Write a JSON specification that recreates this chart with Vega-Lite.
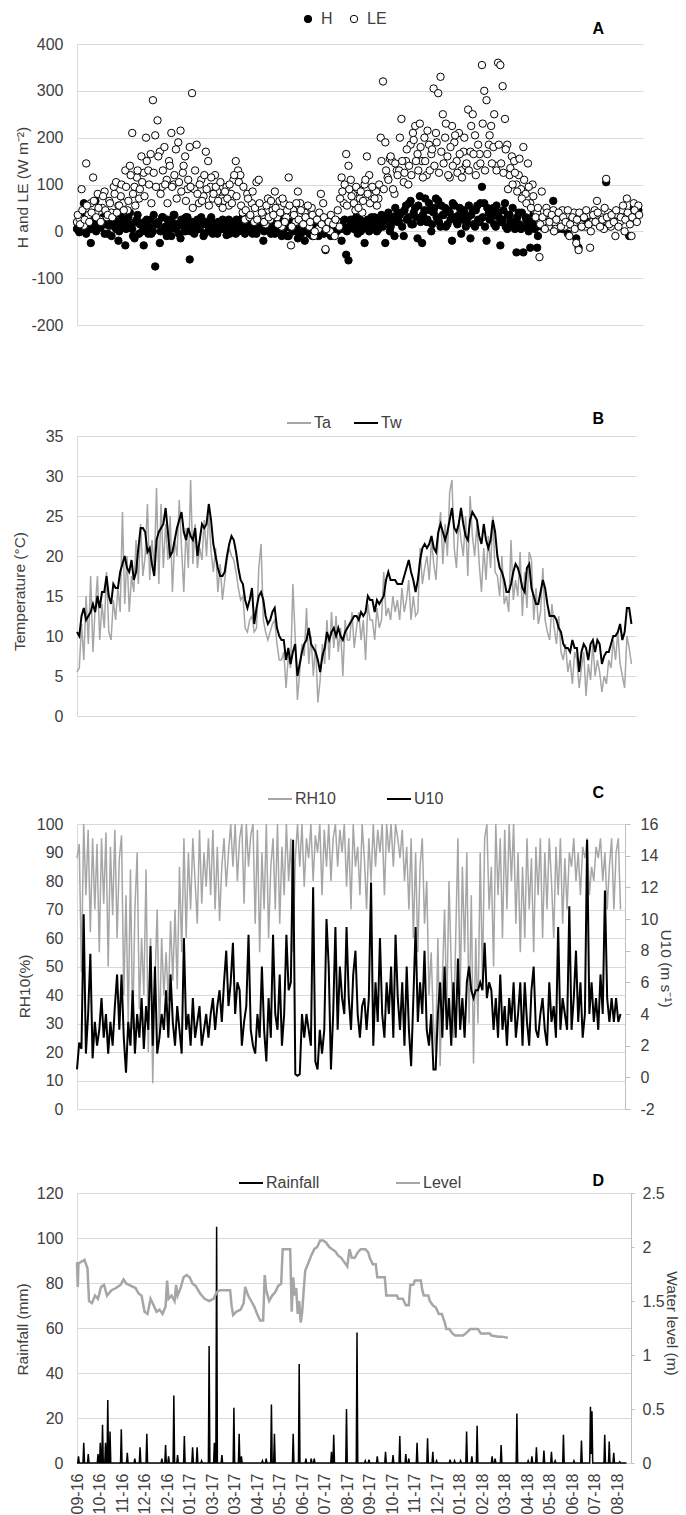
{
"$schema": "https://vega.github.io/schema/vega-lite/v6.json",
"padding": {"left": 12, "top": 11, "right": 3, "bottom": 0},
"background": "white",
"config": {
 "font": "Liberation Sans",
 "view": {"stroke": null},
 "axis": {"labelFont": "Liberation Sans", "labelFontSize": 16, "labelColor": "#404040", "titleFont": "Liberation Sans", "titleFontSize": 15.5, "titleFontWeight": "normal", "titleColor": "#404040", "gridColor": "#d9d9d9", "gridWidth": 1, "domainColor": "#d9d9d9", "tickColor": "#bfbfbf", "labelOverlap": false, "labelFlush": false, "labelBound": false},
 "axisLeft": {"grid": true, "ticks": false, "tickSize": 0, "labelPadding": 14, "titleBaseline": "middle", "domain": true},
 "axisRight": {"grid": false, "ticks": true, "tickSize": 5, "labelPadding": 10, "domainColor": "#bfbfbf", "titleBaseline": "middle", "titleAngle": 90},
 "axisBottom": {"grid": false, "ticks": false, "tickSize": 0, "labelPadding": 10, "domainColor": "#d9d9d9"},
 "legend": {"orient": "none", "direction": "horizontal", "labelFont": "Liberation Sans", "labelFontSize": 16, "labelColor": "#404040", "padding": 0},
 "title": {"font": "Liberation Sans", "fontSize": 16, "fontWeight": "bold", "color": "#000000", "anchor": "end", "frame": "group"}
},
"datasets": {
"daily": [
{"t":0,"H":5,"LE":20,"Ta":5.5,"Tw":10.5,"RH":88,"U":0.5},
{"t":3,"H":-2,"LE":28,"Ta":6,"Tw":10,"RH":93,"U":2.2},
{"t":6,"H":25,"LE":90,"Ta":11.5,"Tw":12.5,"RH":48,"U":1.8},
{"t":9,"H":60,"LE":12,"Ta":7,"Tw":13.5,"RH":100,"U":10.3},
{"t":12,"H":-5,"LE":145,"Ta":15,"Tw":12,"RH":75,"U":1.5},
{"t":15,"H":10,"LE":35,"Ta":9,"Tw":12.5,"RH":98,"U":4},
{"t":18,"H":-25,"LE":60,"Ta":17.5,"Tw":13,"RH":62,"U":7.8},
{"t":21,"H":30,"LE":115,"Ta":8,"Tw":14,"RH":95,"U":1.2},
{"t":24,"H":65,"LE":40,"Ta":13.5,"Tw":13,"RH":70,"U":3.5},
{"t":27,"H":15,"LE":80,"Ta":17.5,"Tw":15,"RH":93,"U":2},
{"t":30,"H":8,"LE":25,"Ta":9.5,"Tw":13.5,"RH":55,"U":3},
{"t":33,"H":20,"LE":50,"Ta":14,"Tw":15.5,"RH":95,"U":5},
{"t":36,"H":-5,"LE":85,"Ta":11,"Tw":15.5,"RH":72,"U":2.5},
{"t":39,"H":30,"LE":30,"Ta":18,"Tw":17.5,"RH":97,"U":4},
{"t":42,"H":12,"LE":65,"Ta":10.5,"Tw":15,"RH":50,"U":1.5},
{"t":45,"H":-10,"LE":40,"Ta":9.5,"Tw":14,"RH":92,"U":3.5},
{"t":48,"H":25,"LE":95,"Ta":14.5,"Tw":16.5,"RH":68,"U":2},
{"t":51,"H":5,"LE":105,"Ta":12,"Tw":16,"RH":98,"U":4.5},
{"t":54,"H":-20,"LE":55,"Ta":16,"Tw":16,"RH":60,"U":6.5},
{"t":57,"H":35,"LE":75,"Ta":13,"Tw":18,"RH":88,"U":3},
{"t":60,"H":10,"LE":60,"Ta":25.5,"Tw":19,"RH":96,"U":6.5},
{"t":63,"H":-30,"LE":130,"Ta":14,"Tw":20,"RH":40,"U":2.5},
{"t":66,"H":20,"LE":45,"Ta":20,"Tw":18.5,"RH":75,"U":0.3},
{"t":69,"H":40,"LE":140,"Ta":13,"Tw":18,"RH":30,"U":3.5},
{"t":72,"H":5,"LE":210,"Ta":17.5,"Tw":19.5,"RH":84,"U":2},
{"t":75,"H":-15,"LE":95,"Ta":15.5,"Tw":17,"RH":28,"U":5.5},
{"t":78,"H":25,"LE":115,"Ta":22,"Tw":18,"RH":70,"U":1.5},
{"t":81,"H":-5,"LE":70,"Ta":16.5,"Tw":21,"RH":90,"U":4},
{"t":84,"H":15,"LE":160,"Ta":24,"Tw":23.5,"RH":35,"U":2.5},
{"t":87,"H":-30,"LE":125,"Ta":17.5,"Tw":23.5,"RH":60,"U":5},
{"t":90,"H":10,"LE":200,"Ta":20,"Tw":23,"RH":40,"U":1.8},
{"t":93,"H":-5,"LE":130,"Ta":26.5,"Tw":20.5,"RH":84,"U":4.5},
{"t":96,"H":25,"LE":165,"Ta":17,"Tw":21,"RH":20,"U":3},
{"t":99,"H":0,"LE":280,"Ta":22,"Tw":19,"RH":60,"U":8.3},
{"t":102,"H":-75,"LE":205,"Ta":18.5,"Tw":17.5,"RH":9,"U":2},
{"t":105,"H":15,"LE":237,"Ta":28.5,"Tw":22,"RH":45,"U":7},
{"t":108,"H":-25,"LE":170,"Ta":16.5,"Tw":23,"RH":70,"U":1.5},
{"t":111,"H":30,"LE":95,"Ta":26.5,"Tw":23.5,"RH":25,"U":2.5},
{"t":114,"H":5,"LE":180,"Ta":18.5,"Tw":24,"RH":60,"U":4},
{"t":117,"H":-10,"LE":110,"Ta":24,"Tw":26,"RH":40,"U":3},
{"t":120,"H":20,"LE":150,"Ta":19.5,"Tw":23,"RH":55,"U":5.5},
{"t":123,"H":-10,"LE":210,"Ta":25,"Tw":20,"RH":38,"U":2.5},
{"t":126,"H":35,"LE":100,"Ta":15.5,"Tw":20.5,"RH":66,"U":6.5},
{"t":129,"H":5,"LE":175,"Ta":22,"Tw":22,"RH":45,"U":3.5},
{"t":132,"H":15,"LE":190,"Ta":20,"Tw":23.5,"RH":70,"U":2},
{"t":135,"H":-15,"LE":215,"Ta":27,"Tw":24.5,"RH":42,"U":4.5},
{"t":138,"H":25,"LE":125,"Ta":21,"Tw":25.5,"RH":85,"U":3},
{"t":141,"H":0,"LE":160,"Ta":15.5,"Tw":23,"RH":55,"U":1.5},
{"t":144,"H":30,"LE":90,"Ta":23.5,"Tw":22,"RH":95,"U":8.8},
{"t":147,"H":-60,"LE":180,"Ta":18.5,"Tw":23.5,"RH":60,"U":3},
{"t":150,"H":10,"LE":295,"Ta":29.5,"Tw":22.5,"RH":90,"U":4},
{"t":153,"H":-5,"LE":90,"Ta":19,"Tw":22,"RH":70,"U":2},
{"t":156,"H":20,"LE":185,"Ta":24,"Tw":23.5,"RH":95,"U":5},
{"t":159,"H":5,"LE":60,"Ta":18.5,"Tw":20,"RH":80,"U":2.5},
{"t":162,"H":30,"LE":110,"Ta":21,"Tw":22,"RH":65,"U":3.5},
{"t":165,"H":-10,"LE":75,"Ta":19.5,"Tw":24,"RH":98,"U":4.5},
{"t":168,"H":15,"LE":170,"Ta":24.5,"Tw":23.5,"RH":72,"U":2},
{"t":171,"H":0,"LE":150,"Ta":20,"Tw":24,"RH":90,"U":3},
{"t":174,"H":25,"LE":95,"Ta":25.5,"Tw":26.5,"RH":78,"U":4},
{"t":177,"H":-5,"LE":70,"Ta":20.5,"Tw":24.5,"RH":95,"U":2.5},
{"t":180,"H":10,"LE":120,"Ta":18,"Tw":21.5,"RH":75,"U":4},
{"t":183,"H":-5,"LE":85,"Ta":21,"Tw":20,"RH":98,"U":5},
{"t":186,"H":20,"LE":60,"Ta":15.5,"Tw":18.5,"RH":70,"U":3},
{"t":189,"H":5,"LE":70,"Ta":19,"Tw":17.5,"RH":92,"U":4.5},
{"t":192,"H":15,"LE":65,"Ta":14.5,"Tw":17.5,"RH":66,"U":5.5},
{"t":195,"H":-8,"LE":95,"Ta":17,"Tw":18,"RH":85,"U":3.5},
{"t":198,"H":25,"LE":55,"Ta":19.5,"Tw":20,"RH":95,"U":6},
{"t":201,"H":5,"LE":80,"Ta":21,"Tw":21.5,"RH":78,"U":8},
{"t":204,"H":12,"LE":110,"Ta":20,"Tw":22.5,"RH":90,"U":4.5},
{"t":207,"H":-5,"LE":150,"Ta":19.5,"Tw":22,"RH":100,"U":6},
{"t":210,"H":20,"LE":130,"Ta":18,"Tw":20.5,"RH":85,"U":8.5},
{"t":213,"H":5,"LE":120,"Ta":16,"Tw":18.5,"RH":100,"U":4},
{"t":216,"H":30,"LE":40,"Ta":14.5,"Tw":17,"RH":80,"U":6},
{"t":219,"H":-5,"LE":25,"Ta":15,"Tw":16.5,"RH":95,"U":5.5},
{"t":222,"H":10,"LE":80,"Ta":11,"Tw":14.5,"RH":100,"U":2},
{"t":225,"H":25,"LE":30,"Ta":10.5,"Tw":13.5,"RH":72,"U":3.5},
{"t":228,"H":0,"LE":60,"Ta":12,"Tw":14.5,"RH":100,"U":4.5},
{"t":231,"H":15,"LE":20,"Ta":12.5,"Tw":16,"RH":85,"U":9},
{"t":234,"H":-5,"LE":105,"Ta":10.5,"Tw":11.5,"RH":96,"U":3},
{"t":237,"H":10,"LE":110,"Ta":11,"Tw":13.5,"RH":100,"U":2},
{"t":240,"H":10,"LE":50,"Ta":18.5,"Tw":15,"RH":65,"U":1.5},
{"t":243,"H":-20,"LE":35,"Ta":21.5,"Tw":15.5,"RH":98,"U":4},
{"t":246,"H":5,"LE":15,"Ta":12,"Tw":14.5,"RH":55,"U":2.5},
{"t":249,"H":20,"LE":70,"Ta":10.5,"Tw":12.5,"RH":90,"U":7},
{"t":252,"H":0,"LE":25,"Ta":9.5,"Tw":11.5,"RH":70,"U":3},
{"t":255,"H":15,"LE":45,"Ta":10.5,"Tw":12,"RH":100,"U":1},
{"t":258,"H":-5,"LE":85,"Ta":11.5,"Tw":13,"RH":60,"U":5},
{"t":261,"H":10,"LE":30,"Ta":12,"Tw":13.5,"RH":85,"U":2.5},
{"t":264,"H":25,"LE":65,"Ta":9,"Tw":11,"RH":95,"U":9},
{"t":267,"H":-10,"LE":10,"Ta":7,"Tw":10,"RH":70,"U":4},
{"t":270,"H":5,"LE":60,"Ta":7,"Tw":9.5,"RH":100,"U":3},
{"t":273,"H":20,"LE":30,"Ta":8,"Tw":9.5,"RH":65,"U":6.5},
{"t":276,"H":-10,"LE":115,"Ta":3.5,"Tw":7,"RH":92,"U":2},
{"t":279,"H":15,"LE":-30,"Ta":7.5,"Tw":8.5,"RH":75,"U":4},
{"t":282,"H":0,"LE":45,"Ta":6,"Tw":6.5,"RH":100,"U":9},
{"t":285,"H":25,"LE":20,"Ta":16.5,"Tw":8,"RH":80,"U":5.5},
{"t":288,"H":-15,"LE":85,"Ta":10,"Tw":9,"RH":95,"U":6},
{"t":291,"H":10,"LE":60,"Ta":2,"Tw":5,"RH":55,"U":15},
{"t":294,"H":5,"LE":15,"Ta":5.5,"Tw":6.5,"RH":88,"U":0.2},
{"t":297,"H":-20,"LE":40,"Ta":9,"Tw":8,"RH":100,"U":0.1},
{"t":300,"H":5,"LE":30,"Ta":7.5,"Tw":9,"RH":85,"U":0.2},
{"t":303,"H":-5,"LE":10,"Ta":13.5,"Tw":9.5,"RH":100,"U":4},
{"t":306,"H":10,"LE":50,"Ta":6.5,"Tw":11,"RH":78,"U":2.5},
{"t":309,"H":0,"LE":-10,"Ta":10,"Tw":9,"RH":95,"U":4},
{"t":312,"H":15,"LE":25,"Ta":5,"Tw":8.5,"RH":88,"U":3},
{"t":315,"H":-10,"LE":5,"Ta":9,"Tw":8,"RH":100,"U":2},
{"t":318,"H":5,"LE":80,"Ta":1.7,"Tw":7,"RH":80,"U":12},
{"t":321,"H":10,"LE":60,"Ta":4.5,"Tw":5.5,"RH":96,"U":1},
{"t":324,"H":-40,"LE":-38,"Ta":9,"Tw":7.5,"RH":90,"U":0.5},
{"t":327,"H":0,"LE":20,"Ta":6.5,"Tw":8.5,"RH":100,"U":3},
{"t":330,"H":10,"LE":0,"Ta":12,"Tw":10.5,"RH":75,"U":1.5},
{"t":333,"H":-5,"LE":25,"Ta":7,"Tw":9.5,"RH":98,"U":3},
{"t":336,"H":15,"LE":-10,"Ta":13,"Tw":10.5,"RH":85,"U":10},
{"t":339,"H":0,"LE":20,"Ta":8.5,"Tw":11,"RH":100,"U":7},
{"t":342,"H":20,"LE":10,"Ta":12.5,"Tw":10,"RH":80,"U":0.5},
{"t":345,"H":-20,"LE":115,"Ta":8,"Tw":11,"RH":95,"U":4},
{"t":348,"H":5,"LE":60,"Ta":11,"Tw":10,"RH":100,"U":9.5},
{"t":351,"H":-50,"LE":165,"Ta":5,"Tw":9.5,"RH":85,"U":3},
{"t":354,"H":-62,"LE":140,"Ta":12,"Tw":10.5,"RH":98,"U":7},
{"t":357,"H":25,"LE":110,"Ta":9.5,"Tw":11,"RH":90,"U":5},
{"t":360,"H":10,"LE":80,"Ta":9.5,"Tw":11.5,"RH":100,"U":4},
{"t":363,"H":20,"LE":45,"Ta":13,"Tw":12,"RH":78,"U":9.5},
{"t":366,"H":-5,"LE":90,"Ta":8.5,"Tw":12.5,"RH":95,"U":5},
{"t":369,"H":25,"LE":70,"Ta":11,"Tw":12.5,"RH":70,"U":3},
{"t":372,"H":5,"LE":40,"Ta":13,"Tw":12,"RH":100,"U":6.5},
{"t":375,"H":-25,"LE":100,"Ta":9.5,"Tw":13,"RH":85,"U":8},
{"t":378,"H":15,"LE":160,"Ta":12,"Tw":12.5,"RH":92,"U":4},
{"t":381,"H":0,"LE":120,"Ta":7,"Tw":13,"RH":75,"U":2.5},
{"t":384,"H":30,"LE":75,"Ta":14,"Tw":15,"RH":100,"U":4.5},
{"t":387,"H":10,"LE":90,"Ta":12,"Tw":14.5,"RH":88,"U":5},
{"t":390,"H":15,"LE":85,"Ta":12,"Tw":14.5,"RH":70,"U":3},
{"t":393,"H":5,"LE":70,"Ta":9.5,"Tw":13,"RH":95,"U":5},
{"t":396,"H":25,"LE":200,"Ta":13.5,"Tw":14.5,"RH":80,"U":12.3},
{"t":399,"H":10,"LE":320,"Ta":11,"Tw":14,"RH":100,"U":2},
{"t":402,"H":-25,"LE":190,"Ta":12,"Tw":14.5,"RH":85,"U":6},
{"t":405,"H":30,"LE":115,"Ta":18,"Tw":15,"RH":98,"U":3.5},
{"t":408,"H":0,"LE":155,"Ta":12.5,"Tw":17,"RH":90,"U":8.8},
{"t":411,"H":20,"LE":150,"Ta":13.5,"Tw":18,"RH":100,"U":4},
{"t":414,"H":-10,"LE":80,"Ta":12,"Tw":17,"RH":75,"U":2.5},
{"t":417,"H":35,"LE":130,"Ta":15,"Tw":17,"RH":100,"U":6},
{"t":420,"H":20,"LE":130,"Ta":13,"Tw":17,"RH":90,"U":4},
{"t":423,"H":40,"LE":240,"Ta":14.5,"Tw":16.5,"RH":100,"U":7},
{"t":426,"H":-10,"LE":105,"Ta":12,"Tw":16.5,"RH":85,"U":2.5},
{"t":429,"H":55,"LE":150,"Ta":16,"Tw":16.5,"RH":100,"U":9},
{"t":432,"H":30,"LE":100,"Ta":13,"Tw":17.5,"RH":95,"U":5},
{"t":435,"H":65,"LE":185,"Ta":14.5,"Tw":18.5,"RH":88,"U":3},
{"t":438,"H":15,"LE":210,"Ta":17,"Tw":19.5,"RH":98,"U":6},
{"t":441,"H":50,"LE":225,"Ta":12,"Tw":18,"RH":80,"U":2},
{"t":444,"H":-15,"LE":165,"Ta":15,"Tw":17,"RH":92,"U":7},
{"t":447,"H":75,"LE":230,"Ta":12.5,"Tw":15.5,"RH":70,"U":3},
{"t":450,"H":-25,"LE":150,"Ta":13,"Tw":17,"RH":95,"U":0.7},
{"t":453,"H":45,"LE":200,"Ta":21,"Tw":19.5,"RH":60,"U":5},
{"t":456,"H":20,"LE":120,"Ta":16.5,"Tw":21,"RH":90,"U":9.5},
{"t":459,"H":60,"LE":185,"Ta":18.5,"Tw":21.5,"RH":55,"U":3.5},
{"t":462,"H":0,"LE":165,"Ta":20,"Tw":21,"RH":85,"U":6},
{"t":465,"H":40,"LE":305,"Ta":17,"Tw":21.5,"RH":95,"U":4},
{"t":468,"H":70,"LE":210,"Ta":22,"Tw":22.5,"RH":65,"U":8},
{"t":471,"H":65,"LE":295,"Ta":19,"Tw":21,"RH":80,"U":3},
{"t":474,"H":10,"LE":330,"Ta":17,"Tw":20.5,"RH":40,"U":2},
{"t":477,"H":35,"LE":250,"Ta":22.5,"Tw":23,"RH":55,"U":4},
{"t":480,"H":50,"LE":200,"Ta":25.5,"Tw":24,"RH":30,"U":0.5},
{"t":483,"H":15,"LE":160,"Ta":19,"Tw":23,"RH":20,"U":0.5},
{"t":486,"H":40,"LE":115,"Ta":24,"Tw":22,"RH":60,"U":4},
{"t":489,"H":-20,"LE":225,"Ta":20,"Tw":23,"RH":15,"U":6},
{"t":492,"H":55,"LE":190,"Ta":28,"Tw":24.5,"RH":45,"U":2.5},
{"t":495,"H":20,"LE":150,"Ta":29.5,"Tw":26,"RH":70,"U":7},
{"t":498,"H":35,"LE":210,"Ta":21,"Tw":23.5,"RH":35,"U":3},
{"t":501,"H":-5,"LE":130,"Ta":18.5,"Tw":23,"RH":80,"U":5},
{"t":504,"H":45,"LE":170,"Ta":24.5,"Tw":24,"RH":50,"U":2},
{"t":507,"H":10,"LE":140,"Ta":22,"Tw":26,"RH":25,"U":6},
{"t":510,"H":30,"LE":260,"Ta":20,"Tw":24,"RH":60,"U":2.5},
{"t":513,"H":-15,"LE":170,"Ta":25,"Tw":22.5,"RH":95,"U":7.5},
{"t":516,"H":45,"LE":250,"Ta":17.5,"Tw":22,"RH":40,"U":3},
{"t":519,"H":10,"LE":205,"Ta":27.5,"Tw":24.5,"RH":85,"U":5},
{"t":522,"H":55,"LE":140,"Ta":22.5,"Tw":25.5,"RH":55,"U":2.5},
{"t":525,"H":20,"LE":165,"Ta":20,"Tw":25,"RH":90,"U":6},
{"t":528,"H":95,"LE":355,"Ta":24,"Tw":24.5,"RH":30,"U":7},
{"t":531,"H":60,"LE":300,"Ta":19,"Tw":22.5,"RH":75,"U":5.5},
{"t":534,"H":-20,"LE":280,"Ta":15.5,"Tw":21.5,"RH":16,"U":5},
{"t":537,"H":40,"LE":185,"Ta":21,"Tw":24,"RH":60,"U":5.5},
{"t":540,"H":30,"LE":225,"Ta":17,"Tw":22,"RH":30,"U":5.5},
{"t":543,"H":50,"LE":180,"Ta":22.5,"Tw":21,"RH":90,"U":6},
{"t":546,"H":10,"LE":140,"Ta":18.5,"Tw":22,"RH":45,"U":5.5},
{"t":549,"H":40,"LE":360,"Ta":25,"Tw":24.5,"RH":95,"U":8.5},
{"t":552,"H":-30,"LE":355,"Ta":18,"Tw":23,"RH":100,"U":5},
{"t":555,"H":25,"LE":310,"Ta":17.5,"Tw":20,"RH":70,"U":6},
{"t":558,"H":60,"LE":240,"Ta":15,"Tw":18.5,"RH":85,"U":5.5},
{"t":561,"H":5,"LE":185,"Ta":20,"Tw":18,"RH":50,"U":3},
{"t":564,"H":35,"LE":120,"Ta":14,"Tw":17,"RH":100,"U":5},
{"t":567,"H":15,"LE":160,"Ta":15,"Tw":15.5,"RH":75,"U":2.5},
{"t":570,"H":20,"LE":150,"Ta":13,"Tw":15.5,"RH":95,"U":6.5},
{"t":573,"H":-45,"LE":100,"Ta":22,"Tw":16.5,"RH":60,"U":3},
{"t":576,"H":40,"LE":120,"Ta":14.5,"Tw":18,"RH":98,"U":4.5},
{"t":579,"H":5,"LE":90,"Ta":17,"Tw":19,"RH":70,"U":2},
{"t":582,"H":-45,"LE":180,"Ta":15,"Tw":18.5,"RH":100,"U":5},
{"t":585,"H":30,"LE":80,"Ta":20.5,"Tw":17.5,"RH":80,"U":3.5},
{"t":588,"H":10,"LE":145,"Ta":12.5,"Tw":16,"RH":100,"U":6},
{"t":591,"H":-35,"LE":60,"Ta":18,"Tw":15.5,"RH":65,"U":2.5},
{"t":594,"H":20,"LE":100,"Ta":13.5,"Tw":18.5,"RH":90,"U":4},
{"t":597,"H":5,"LE":45,"Ta":20.5,"Tw":19,"RH":55,"U":6},
{"t":600,"H":-35,"LE":40,"Ta":19.5,"Tw":16,"RH":85,"U":2},
{"t":603,"LE":-55,"Ta":12,"Tw":15,"RH":60,"U":6},
{"t":606,"H":10,"LE":85,"Ta":16,"Tw":14,"RH":95,"U":3.5},
{"t":609,"LE":20,"Ta":11.5,"Tw":14,"RH":70,"U":2},
{"t":612,"LE":50,"Ta":13,"Tw":15.5,"RH":88,"U":5.5},
{"t":615,"H":20,"LE":10,"Ta":18.5,"Tw":17,"RH":55,"U":7},
{"t":618,"LE":30,"Ta":12,"Tw":16,"RH":92,"U":3},
{"t":621,"H":65,"LE":45,"Ta":10.5,"Tw":14,"RH":75,"U":2.5},
{"t":624,"LE":5,"Ta":9.5,"Tw":12.5,"RH":95,"U":4},
{"t":627,"H":5,"LE":35,"Ta":14,"Tw":12.5,"RH":60,"U":5},
{"t":630,"LE":20,"Ta":11,"Tw":12.5,"RH":90,"U":3},
{"t":633,"H":5,"LE":45,"Ta":9,"Tw":12,"RH":70,"U":2},
{"t":636,"LE":10,"Ta":12.5,"Tw":11,"RH":95,"U":6},
{"t":639,"LE":35,"Ta":8,"Tw":10.5,"RH":80,"U":3.5},
{"t":642,"H":15,"LE":-10,"Ta":7,"Tw":9,"RH":60,"U":4.5},
{"t":645,"LE":25,"Ta":9,"Tw":8.5,"RH":92,"U":2.5},
{"t":648,"LE":40,"Ta":5.5,"Tw":8.5,"RH":75,"U":9.5},
{"t":651,"H":-15,"LE":-25,"Ta":7,"Tw":8,"RH":95,"U":3},
{"t":654,"H":-35,"LE":-40,"Ta":4,"Tw":9.5,"RH":65,"U":5},
{"t":657,"LE":15,"Ta":8,"Tw":8.5,"RH":88,"U":4},
{"t":660,"LE":30,"Ta":7,"Tw":8.5,"RH":70,"U":3},
{"t":663,"LE":10,"Ta":3.5,"Tw":5.5,"RH":90,"U":10.8},
{"t":666,"H":20,"LE":35,"Ta":6,"Tw":8,"RH":85,"U":3},
{"t":669,"LE":-35,"Ta":8,"Tw":9,"RH":95,"U":5},
{"t":672,"LE":20,"Ta":2.5,"Tw":8.5,"RH":80,"U":8},
{"t":675,"LE":45,"Ta":6.5,"Tw":7,"RH":90,"U":3.5},
{"t":678,"LE":65,"Ta":4.5,"Tw":9,"RH":75,"U":6},
{"t":681,"LE":15,"Ta":9,"Tw":9.5,"RH":92,"U":2.5},
{"t":684,"H":10,"LE":30,"Ta":5,"Tw":8,"RH":88,"U":4},
{"t":687,"LE":5,"Ta":7,"Tw":9.5,"RH":95,"U":15},
{"t":690,"H":105,"LE":112,"Ta":5.5,"Tw":9,"RH":75,"U":4},
{"t":693,"LE":40,"Ta":3,"Tw":6.5,"RH":85,"U":6},
{"t":696,"LE":10,"Ta":5,"Tw":7.5,"RH":80,"U":3.5},
{"t":699,"LE":25,"Ta":4,"Tw":8,"RH":92,"U":5},
{"t":702,"LE":-10,"Ta":7,"Tw":8,"RH":88,"U":3},
{"t":705,"LE":35,"Ta":6,"Tw":9,"RH":95,"U":6.5},
{"t":708,"LE":20,"Ta":9.5,"Tw":10,"RH":80,"U":4},
{"t":711,"LE":45,"Ta":7,"Tw":10,"RH":90,"U":11.8},
{"t":714,"LE":0,"Ta":10.5,"Tw":10.5,"RH":70,"U":5},
{"t":717,"LE":70,"Ta":6.5,"Tw":11.5,"RH":85,"U":3.5},
{"t":720,"H":-10,"LE":35,"Ta":5,"Tw":9.5,"RH":95,"U":5},
{"t":723,"LE":-10,"Ta":3.5,"Tw":10.5,"RH":70,"U":3.5},
{"t":726,"H":50,"LE":60,"Ta":10,"Tw":13.5,"RH":90,"U":5},
{"t":729,"LE":40,"Ta":8.5,"Tw":13.5,"RH":95,"U":3.5},
{"t":732,"H":45,"LE":55,"Ta":6.5,"Tw":11.5,"RH":70,"U":4}
],
"flux2": [
{"t":1,"H":15,"LE":35},{"t":4,"H":0,"LE":15},{"t":7,"H":20,"LE":45},{"t":10,"H":30,"LE":25},{"t":13,"H":10,"LE":55},{"t":16,"H":25,"LE":20},{"t":19,"H":5,"LE":40},{"t":22,"H":15,"LE":65},{"t":25,"H":0,"LE":30},{"t":28,"H":25,"LE":50},
{"t":31,"H":10,"LE":20},{"t":34,"H":30,"LE":75},{"t":37,"H":15,"LE":45},{"t":40,"H":-5,"LE":35},{"t":43,"H":20,"LE":60},{"t":46,"H":35,"LE":30},{"t":49,"H":10,"LE":80},{"t":52,"H":20,"LE":40},{"t":55,"H":0,"LE":55},{"t":58,"H":15,"LE":100},
{"t":61,"H":25,"LE":45},{"t":64,"H":5,"LE":95},{"t":67,"H":30,"LE":65},{"t":70,"H":10,"LE":120},{"t":73,"H":-10,"LE":80},{"t":76,"H":20,"LE":55},{"t":79,"H":35,"LE":130},{"t":82,"H":15,"LE":90},{"t":85,"H":0,"LE":105},{"t":88,"H":20,"LE":75},
{"t":91,"H":25,"LE":150},{"t":94,"H":10,"LE":100},{"t":97,"H":-5,"LE":60},{"t":100,"H":35,"LE":125},{"t":103,"H":15,"LE":95},{"t":106,"H":20,"LE":160},{"t":109,"H":0,"LE":80},{"t":112,"H":30,"LE":130},{"t":115,"H":10,"LE":100},{"t":118,"H":25,"LE":60},
{"t":121,"H":5,"LE":140},{"t":124,"H":20,"LE":95},{"t":127,"H":35,"LE":120},{"t":130,"H":15,"LE":70},{"t":133,"H":-5,"LE":105},{"t":136,"H":25,"LE":85},{"t":139,"H":10,"LE":140},{"t":142,"H":30,"LE":65},{"t":145,"H":15,"LE":110},{"t":148,"H":0,"LE":95},
{"t":151,"H":20,"LE":50},{"t":154,"H":10,"LE":130},{"t":157,"H":25,"LE":80},{"t":160,"H":5,"LE":100},{"t":163,"H":15,"LE":65},{"t":166,"H":-5,"LE":120},{"t":169,"H":20,"LE":90},{"t":172,"H":10,"LE":55},{"t":175,"H":30,"LE":115},{"t":178,"H":15,"LE":80},
{"t":181,"H":0,"LE":95},{"t":184,"H":20,"LE":65},{"t":187,"H":10,"LE":105},{"t":190,"H":25,"LE":50},{"t":193,"H":5,"LE":85},{"t":196,"H":15,"LE":70},{"t":199,"H":-5,"LE":100},{"t":202,"H":20,"LE":60},{"t":205,"H":10,"LE":120},{"t":208,"H":25,"LE":75},
{"t":211,"H":0,"LE":105},{"t":214,"H":15,"LE":55},{"t":217,"H":10,"LE":95},{"t":220,"H":20,"LE":45},{"t":223,"H":5,"LE":70},{"t":226,"H":15,"LE":35},{"t":229,"H":-5,"LE":85},{"t":232,"H":20,"LE":50},{"t":235,"H":10,"LE":25},{"t":238,"H":5,"LE":60},
{"t":241,"H":15,"LE":40},{"t":244,"H":0,"LE":20},{"t":247,"H":20,"LE":55},{"t":250,"H":10,"LE":30},{"t":253,"H":-5,"LE":65},{"t":256,"H":15,"LE":35},{"t":259,"H":5,"LE":50},{"t":262,"H":20,"LE":15},{"t":265,"H":0,"LE":40},{"t":268,"H":10,"LE":70},
{"t":271,"H":15,"LE":20},{"t":274,"H":-10,"LE":45},{"t":277,"H":20,"LE":55},{"t":280,"H":5,"LE":10},{"t":283,"H":10,"LE":35},{"t":286,"H":0,"LE":60},{"t":289,"H":15,"LE":25},{"t":292,"H":-5,"LE":45},{"t":295,"H":10,"LE":15},{"t":298,"H":20,"LE":30},
{"t":301,"H":0,"LE":55},{"t":304,"H":10,"LE":20},{"t":307,"H":-10,"LE":35},{"t":310,"H":15,"LE":0},{"t":313,"H":5,"LE":25},{"t":316,"H":0,"LE":40},{"t":319,"H":10,"LE":15},{"t":322,"H":-5,"LE":30},{"t":325,"H":15,"LE":5},{"t":328,"H":5,"LE":20},
{"t":331,"H":-10,"LE":35},{"t":334,"H":20,"LE":15},{"t":337,"H":0,"LE":25},{"t":340,"H":10,"LE":45},{"t":343,"H":5,"LE":70},{"t":346,"H":15,"LE":85},{"t":349,"H":25,"LE":100},{"t":352,"H":0,"LE":55},{"t":355,"H":10,"LE":90},{"t":358,"H":20,"LE":75},
{"t":361,"H":5,"LE":60},{"t":364,"H":30,"LE":95},{"t":367,"H":15,"LE":50},{"t":370,"H":0,"LE":85},{"t":373,"H":20,"LE":65},{"t":376,"H":10,"LE":110},{"t":379,"H":25,"LE":80},{"t":382,"H":5,"LE":60},{"t":385,"H":15,"LE":95},{"t":388,"H":30,"LE":70},
{"t":391,"H":0,"LE":55},{"t":394,"H":20,"LE":100},{"t":397,"H":35,"LE":150},{"t":400,"H":15,"LE":90},{"t":403,"H":25,"LE":130},{"t":406,"H":40,"LE":110},{"t":409,"H":10,"LE":160},{"t":412,"H":30,"LE":90},{"t":415,"H":50,"LE":145},{"t":418,"H":20,"LE":120},
{"t":421,"H":35,"LE":200},{"t":424,"H":10,"LE":150},{"t":427,"H":45,"LE":125},{"t":430,"H":25,"LE":175},{"t":433,"H":60,"LE":140},{"t":436,"H":15,"LE":120},{"t":439,"H":40,"LE":195},{"t":442,"H":30,"LE":150},{"t":445,"H":55,"LE":130},{"t":448,"H":20,"LE":180},
{"t":451,"H":35,"LE":115},{"t":454,"H":70,"LE":150},{"t":457,"H":25,"LE":215},{"t":460,"H":45,"LE":130},{"t":463,"H":15,"LE":175},{"t":466,"H":50,"LE":140},{"t":469,"H":30,"LE":190},{"t":472,"H":20,"LE":125},{"t":475,"H":55,"LE":170},{"t":478,"H":35,"LE":145},
{"t":481,"H":10,"LE":230},{"t":484,"H":45,"LE":120},{"t":487,"H":25,"LE":180},{"t":490,"H":60,"LE":140},{"t":493,"H":30,"LE":205},{"t":496,"H":15,"LE":125},{"t":499,"H":50,"LE":165},{"t":502,"H":25,"LE":115},{"t":505,"H":40,"LE":200},{"t":508,"H":20,"LE":145},
{"t":511,"H":55,"LE":130},{"t":514,"H":35,"LE":225},{"t":517,"H":15,"LE":165},{"t":520,"H":45,"LE":120},{"t":523,"H":25,"LE":185},{"t":526,"H":60,"LE":145},{"t":529,"H":30,"LE":230},{"t":532,"H":10,"LE":130},{"t":535,"H":50,"LE":165},{"t":538,"H":25,"LE":205},
{"t":541,"H":40,"LE":145},{"t":544,"H":15,"LE":250},{"t":547,"H":55,"LE":130},{"t":550,"H":30,"LE":185},{"t":553,"H":20,"LE":145},{"t":556,"H":45,"LE":125},{"t":559,"H":10,"LE":175},{"t":562,"H":35,"LE":90},{"t":565,"H":20,"LE":135},{"t":568,"H":50,"LE":100},
{"t":571,"H":5,"LE":125},{"t":574,"H":30,"LE":85},{"t":577,"H":15,"LE":155},{"t":580,"H":40,"LE":70},{"t":583,"H":10,"LE":110},{"t":586,"H":25,"LE":60},{"t":589,"H":0,"LE":95},{"t":592,"H":20,"LE":50},{"t":595,"H":35,"LE":75},{"t":598,"H":10,"LE":30},
{"t":601,"H":-10,"LE":50},{"t":604,"LE":15},{"t":607,"LE":30},{"t":610,"H":15,"LE":5},{"t":613,"LE":40},{"t":616,"LE":20},{"t":619,"LE":35},{"t":622,"H":5,"LE":0},{"t":625,"LE":25},{"t":628,"LE":40},
{"t":631,"LE":10},{"t":634,"LE":30},{"t":637,"LE":20},{"t":640,"H":-5,"LE":45},{"t":643,"LE":15},{"t":646,"LE":30},{"t":649,"LE":5},{"t":652,"LE":25},{"t":655,"LE":40},{"t":658,"H":10,"LE":10},
{"t":661,"LE":30},{"t":664,"LE":45},{"t":667,"LE":15},{"t":670,"LE":0},{"t":673,"LE":35},{"t":676,"LE":20},{"t":679,"LE":40},{"t":682,"LE":10},{"t":685,"LE":25},{"t":688,"LE":50},
{"t":691,"LE":30},{"t":694,"LE":15},{"t":697,"LE":35},{"t":700,"LE":20},{"t":703,"LE":45},{"t":706,"LE":10},{"t":709,"LE":30},{"t":712,"LE":55},{"t":715,"LE":25},{"t":718,"LE":40},
{"t":721,"LE":15},{"t":724,"LE":30},{"t":727,"LE":45},{"t":730,"LE":20},{"t":733,"LE":35}
],
"rain": [
{"t":0,"R":0},{"t":1,"R":0},{"t":2,"R":3},{"t":3,"R":0},{"t":8,"R":0},{"t":9,"R":9},{"t":10,"R":0},{"t":14,"R":0},{"t":15,"R":4},{"t":16,"R":0},
{"t":27,"R":0},{"t":28,"R":4},{"t":29,"R":0},{"t":30,"R":0},{"t":31,"R":9},{"t":32,"R":0},{"t":33,"R":0},{"t":34,"R":17},{"t":35,"R":0},{"t":37,"R":0},
{"t":38,"R":9},{"t":39,"R":0},{"t":40,"R":0},{"t":41,"R":28},{"t":42,"R":0},{"t":43,"R":0},{"t":44,"R":14},{"t":45,"R":0},{"t":58,"R":0},{"t":59,"R":15},
{"t":60,"R":0},{"t":66,"R":0},{"t":67,"R":4.5},{"t":68,"R":0},{"t":76,"R":0},{"t":77,"R":2},{"t":78,"R":0},{"t":83,"R":0},{"t":84,"R":7},{"t":85,"R":0},
{"t":92,"R":0},{"t":93,"R":13},{"t":94,"R":0},{"t":112,"R":0},{"t":113,"R":2},{"t":114,"R":0},{"t":117,"R":0},{"t":118,"R":8},{"t":119,"R":0},{"t":121,"R":0},
{"t":122,"R":3},{"t":123,"R":0},{"t":128,"R":0},{"t":129,"R":30},{"t":130,"R":0},{"t":133,"R":0},{"t":134,"R":3.5},{"t":135,"R":0},{"t":142,"R":0},{"t":143,"R":12},
{"t":144,"R":0},{"t":153,"R":0},{"t":154,"R":7},{"t":155,"R":0},{"t":159,"R":0},{"t":160,"R":7},{"t":161,"R":0},{"t":165,"R":0},{"t":166,"R":1},{"t":167,"R":0},
{"t":175,"R":0},{"t":176,"R":52},{"t":177,"R":0},{"t":182,"R":0},{"t":183,"R":9},{"t":184,"R":0},{"t":185,"R":0},{"t":186,"R":105},{"t":187,"R":0},{"t":192,"R":0},
{"t":193,"R":3.5},{"t":194,"R":0},{"t":208,"R":0},{"t":209,"R":24.5},{"t":210,"R":0},{"t":215,"R":0},{"t":216,"R":13},{"t":217,"R":0},{"t":218,"R":0},{"t":219,"R":3},
{"t":220,"R":0},{"t":246,"R":0},{"t":247,"R":1},{"t":248,"R":0},{"t":251,"R":0},{"t":252,"R":2},{"t":253,"R":0},{"t":258,"R":0},{"t":259,"R":26},{"t":260,"R":0},
{"t":262,"R":0},{"t":263,"R":13},{"t":264,"R":0},{"t":287,"R":0},{"t":288,"R":13},{"t":289,"R":0},{"t":295,"R":0},{"t":296,"R":44},{"t":297,"R":0},{"t":304,"R":0},
{"t":305,"R":2},{"t":306,"R":0},{"t":311,"R":0},{"t":312,"R":2},{"t":313,"R":0},{"t":315,"R":0},{"t":316,"R":2},{"t":317,"R":0},{"t":338,"R":0},{"t":339,"R":5},
{"t":340,"R":0},{"t":341,"R":0},{"t":342,"R":12.5},{"t":343,"R":0},{"t":358,"R":0},{"t":359,"R":24},{"t":360,"R":0},{"t":372,"R":0},{"t":373,"R":58},{"t":374,"R":0},
{"t":383,"R":0},{"t":384,"R":1},{"t":385,"R":0},{"t":388,"R":0},{"t":389,"R":1.5},{"t":390,"R":0},{"t":399,"R":0},{"t":400,"R":3},{"t":401,"R":0},{"t":410,"R":0},
{"t":411,"R":5},{"t":412,"R":0},{"t":420,"R":0},{"t":421,"R":3.5},{"t":422,"R":0},{"t":429,"R":0},{"t":430,"R":12},{"t":431,"R":0},{"t":437,"R":0},{"t":438,"R":4},
{"t":439,"R":0},{"t":441,"R":0},{"t":442,"R":2},{"t":443,"R":0},{"t":452,"R":0},{"t":453,"R":9},{"t":454,"R":0},{"t":466,"R":0},{"t":467,"R":11},{"t":468,"R":0},
{"t":473,"R":0},{"t":474,"R":5},{"t":475,"R":0},{"t":478,"R":0},{"t":479,"R":1},{"t":480,"R":0},{"t":496,"R":0},{"t":497,"R":1.5},{"t":498,"R":0},{"t":502,"R":0},
{"t":503,"R":1},{"t":504,"R":0},{"t":510,"R":0},{"t":511,"R":1},{"t":512,"R":0},{"t":518,"R":0},{"t":519,"R":14},{"t":520,"R":0},{"t":525,"R":0},{"t":526,"R":3},
{"t":527,"R":0},{"t":532,"R":0},{"t":533,"R":16.5},{"t":534,"R":0},{"t":552,"R":0},{"t":553,"R":3},{"t":554,"R":0},{"t":556,"R":0},{"t":557,"R":2},{"t":558,"R":0},
{"t":564,"R":0},{"t":565,"R":8},{"t":566,"R":0},{"t":585,"R":0},{"t":586,"R":22},{"t":587,"R":0},{"t":600,"R":0},{"t":601,"R":1},{"t":602,"R":0},{"t":605,"R":0},
{"t":606,"R":3},{"t":607,"R":0},{"t":611,"R":0},{"t":612,"R":7},{"t":613,"R":0},{"t":621,"R":0},{"t":622,"R":5.5},{"t":623,"R":0},{"t":631,"R":0},{"t":632,"R":5},
{"t":633,"R":0},{"t":636,"R":0},{"t":637,"R":1},{"t":638,"R":0},{"t":647,"R":0},{"t":648,"R":12.5},{"t":649,"R":0},{"t":661,"R":0},{"t":662,"R":1},{"t":663,"R":0},
{"t":671,"R":0},{"t":672,"R":10},{"t":673,"R":0},{"t":683,"R":0},{"t":684,"R":25},{"t":685,"R":4},{"t":686,"R":23},{"t":687,"R":0},{"t":702,"R":0},{"t":703,"R":12.5},
{"t":704,"R":0},{"t":708,"R":0},{"t":709,"R":9.5},{"t":710,"R":0},{"t":714,"R":0},{"t":715,"R":4.5},{"t":716,"R":0},{"t":722,"R":0},{"t":723,"R":0.5},{"t":724,"R":0},
{"t":732,"R":0}
],
"level": [
{"t":0,"L":1.86},{"t":1,"L":1.63},{"t":2,"L":1.85},{"t":5,"L":1.86},{"t":10,"L":1.88},{"t":14,"L":1.8},{"t":16,"L":1.5},{"t":20,"L":1.48},{"t":24,"L":1.55},{"t":28,"L":1.52},
{"t":32,"L":1.63},{"t":36,"L":1.65},{"t":40,"L":1.55},{"t":46,"L":1.6},{"t":52,"L":1.62},{"t":58,"L":1.65},{"t":62,"L":1.7},{"t":66,"L":1.66},{"t":72,"L":1.64},{"t":78,"L":1.62},
{"t":82,"L":1.57},{"t":86,"L":1.55},{"t":90,"L":1.4},{"t":94,"L":1.38},{"t":98,"L":1.52},{"t":102,"L":1.46},{"t":106,"L":1.4},{"t":110,"L":1.42},{"t":114,"L":1.38},{"t":118,"L":1.45},
{"t":120,"L":1.69},{"t":122,"L":1.52},{"t":126,"L":1.55},{"t":130,"L":1.5},{"t":132,"L":1.65},{"t":134,"L":1.55},{"t":138,"L":1.62},{"t":142,"L":1.72},{"t":146,"L":1.74},{"t":150,"L":1.72},
{"t":154,"L":1.66},{"t":158,"L":1.64},{"t":164,"L":1.57},{"t":170,"L":1.52},{"t":176,"L":1.5},{"t":182,"L":1.52},{"t":186,"L":1.58},{"t":190,"L":1.6},{"t":204,"L":1.6},{"t":206,"L":1.45},
{"t":208,"L":1.37},{"t":212,"L":1.4},{"t":218,"L":1.42},{"t":222,"L":1.48},{"t":224,"L":1.63},{"t":228,"L":1.55},{"t":232,"L":1.5},{"t":236,"L":1.45},{"t":240,"L":1.38},{"t":244,"L":1.32},
{"t":248,"L":1.32},{"t":250,"L":1.74},{"t":252,"L":1.6},{"t":256,"L":1.5},{"t":260,"L":1.55},{"t":264,"L":1.58},{"t":268,"L":1.64},{"t":272,"L":1.66},{"t":274,"L":1.98},{"t":284,"L":1.98},
{"t":286,"L":1.4},{"t":288,"L":1.72},{"t":290,"L":1.55},{"t":292,"L":1.62},{"t":294,"L":1.38},{"t":296,"L":1.5},{"t":298,"L":1.3},{"t":300,"L":1.4},{"t":302,"L":1.6},{"t":304,"L":1.78},
{"t":308,"L":1.85},{"t":312,"L":1.92},{"t":316,"L":1.98},{"t":320,"L":2.0},{"t":324,"L":2.06},{"t":328,"L":2.06},{"t":332,"L":2.04},{"t":336,"L":2.0},{"t":340,"L":1.98},{"t":344,"L":1.96},
{"t":348,"L":1.92},{"t":352,"L":1.9},{"t":356,"L":1.86},{"t":360,"L":1.82},{"t":363,"L":1.98},{"t":366,"L":1.9},{"t":370,"L":1.9},{"t":374,"L":1.95},{"t":378,"L":1.98},{"t":384,"L":1.98},
{"t":388,"L":1.95},{"t":390,"L":1.9},{"t":394,"L":1.84},{"t":398,"L":1.84},{"t":400,"L":1.72},{"t":410,"L":1.72},{"t":412,"L":1.55},{"t":426,"L":1.55},{"t":428,"L":1.52},{"t":434,"L":1.52},
{"t":438,"L":1.46},{"t":442,"L":1.46},{"t":444,"L":1.65},{"t":448,"L":1.65},{"t":450,"L":1.69},{"t":458,"L":1.69},{"t":460,"L":1.6},{"t":462,"L":1.55},{"t":468,"L":1.55},{"t":470,"L":1.5},
{"t":474,"L":1.46},{"t":478,"L":1.44},{"t":482,"L":1.38},{"t":486,"L":1.38},{"t":490,"L":1.3},{"t":492,"L":1.24},{"t":496,"L":1.24},{"t":500,"L":1.2},{"t":504,"L":1.18},{"t":514,"L":1.18},
{"t":518,"L":1.2},{"t":524,"L":1.24},{"t":534,"L":1.24},{"t":538,"L":1.2},{"t":550,"L":1.2},{"t":552,"L":1.18},{"t":562,"L":1.17},{"t":566,"L":1.17},{"t":574,"L":1.16}
]
},
"vconcat": [
{
 "width": 566, "height": 308,
 "title": {"text": "A", "dx": -39, "dy": 26, "offset": 0},
 "encoding": {
  "x": {"field": "t", "type": "quantitative", "scale": {"domain": [0, 738], "nice": false, "zero": false}, "axis": null}
 },
 "layer": [
  {"data": {"name": "daily"},
   "mark": {"type": "point", "filled": true, "size": 55, "stroke": "#000000", "strokeWidth": 1, "opacity": 1},
   "encoding": {
    "y": {"field": "H", "type": "quantitative", "scale": {"domain": [-200, 400], "range": [281, 0], "nice": false, "zero": false}, "axis": {"values": [-200, -100, 0, 100, 200, 300, 400], "title": "H and LE (W m⁻²)", "titleX": -55, "titleY": 143, "labelExpr": "replace(datum.label, '−', '-')"}},
    "fill": {"datum": "H", "type": "nominal", "scale": {"domain": ["H", "LE"], "range": ["#000000", "#ffffff"]}, "legend": {"title": null, "legendX": 223, "legendY": -33, "symbolType": "circle", "symbolSize": 55, "symbolStrokeColor": "#000000", "symbolStrokeWidth": 1, "labelOffset": 5, "columnPadding": 13}}
   }},
  {"data": {"name": "flux2"},
   "mark": {"type": "point", "filled": true, "size": 55, "stroke": "#000000", "strokeWidth": 1, "opacity": 1},
   "encoding": {
    "y": {"field": "H", "type": "quantitative", "axis": {"values": [-200, -100, 0, 100, 200, 300, 400], "title": "H and LE (W m⁻²)", "titleX": -55, "titleY": 143, "labelExpr": "replace(datum.label, '−', '-')"}},
    "fill": {"datum": "H", "type": "nominal"}
   }},
  {"data": {"name": "daily"},
   "mark": {"type": "point", "filled": true, "size": 55, "stroke": "#000000", "strokeWidth": 1, "opacity": 1},
   "encoding": {
    "y": {"field": "LE", "type": "quantitative", "axis": {"values": [-200, -100, 0, 100, 200, 300, 400], "title": "H and LE (W m⁻²)", "titleX": -55, "titleY": 143, "labelExpr": "replace(datum.label, '−', '-')"}},
    "fill": {"datum": "LE", "type": "nominal"}
   }},
  {"data": {"name": "flux2"},
   "mark": {"type": "point", "filled": true, "size": 55, "stroke": "#000000", "strokeWidth": 1, "opacity": 1},
   "encoding": {
    "y": {"field": "LE", "type": "quantitative", "axis": {"values": [-200, -100, 0, 100, 200, 300, 400], "title": "H and LE (W m⁻²)", "titleX": -55, "titleY": 143, "labelExpr": "replace(datum.label, '−', '-')"}},
    "fill": {"datum": "LE", "type": "nominal"}
   }}
 ]
},
{
 "width": 559, "height": 304,
 "title": {"text": "B", "dx": -32, "dy": 17, "offset": 0},
 "data": {"name": "daily"},
 "encoding": {
  "x": {"field": "t", "type": "quantitative", "scale": {"domain": [0, 738], "nice": false, "zero": false}, "axis": null}
 },
 "layer": [
  {"mark": {"type": "line", "strokeWidth": 1.5},
   "encoding": {
    "y": {"field": "Ta", "type": "quantitative", "scale": {"domain": [0, 35], "range": [280, 0], "nice": false}, "axis": {"values": [0, 5, 10, 15, 20, 25, 30, 35], "title": "Temperature (°C)", "titleX": -58, "titleY": 155}},
    "color": {"datum": "Ta", "type": "nominal", "scale": {"domain": ["Ta", "Tw"], "range": ["#a6a6a6", "#000000"]}, "legend": {"title": null, "legendX": 209, "legendY": -26, "symbolType": "stroke", "symbolSize": 576, "symbolStrokeWidth": 2, "labelOffset": 2, "columnPadding": 19}}
   }},
  {"mark": {"type": "line", "strokeWidth": 2},
   "encoding": {
    "y": {"field": "Tw", "type": "quantitative", "axis": {"values": [0, 5, 10, 15, 20, 25, 30, 35], "title": "Temperature (°C)", "titleX": -58, "titleY": 155}},
    "color": {"datum": "Tw", "type": "nominal"}
   }}
 ]
},
{
 "width": 548, "height": 285,
 "title": {"text": "C", "dx": -21, "dy": 29, "offset": 14},
 "data": {"name": "daily"},
 "encoding": {
  "x": {"field": "t", "type": "quantitative", "scale": {"domain": [0, 738], "nice": false, "zero": false}, "axis": null}
 },
 "layer": [
  {"mark": {"type": "line", "strokeWidth": 1.5},
   "encoding": {
    "y": {"field": "RH", "type": "quantitative", "scale": {"domain": [0, 100], "nice": false}, "axis": {"values": [0, 10, 20, 30, 40, 50, 60, 70, 80, 90, 100], "title": "RH10(%)", "titleX": -53, "titleY": 162}},
    "color": {"datum": "RH10", "type": "nominal", "scale": {"domain": ["RH10", "U10"], "range": ["#a6a6a6", "#000000"]}, "legend": {"title": null, "legendX": 190, "legendY": -38, "symbolType": "stroke", "symbolSize": 576, "symbolStrokeWidth": 2, "labelOffset": 2, "columnPadding": 47}}
   }},
  {"mark": {"type": "line", "strokeWidth": 2},
   "encoding": {
    "y": {"field": "U", "type": "quantitative", "scale": {"domain": [-2, 16], "nice": false, "zero": false}, "axis": {"orient": "right", "values": [-2, 0, 2, 4, 6, 8, 10, 12, 14, 16], "title": "U10 (m s⁻¹)", "titleX": 40, "titleY": 144, "labelExpr": "replace(datum.label, '−', '-')"}},
    "color": {"datum": "U10", "type": "nominal"}
   }}
 ],
 "resolve": {"scale": {"y": "independent"}}
},
{
 "width": 554, "height": 270,
 "title": {"text": "D", "dx": -27, "dy": 15, "offset": -4},
 "encoding": {
  "x": {"field": "t", "type": "quantitative", "scale": {"domain": [0, 738], "nice": false, "zero": false}, "axis": {"title": null, "values": [0, 30, 60, 90, 120, 150, 180, 210, 240, 270, 300, 330, 360, 390, 420, 450, 480, 510, 540, 570, 600, 630, 660, 690, 720], "labelAngle": 270, "labelAlign": "right", "labelBaseline": "middle", "labelExpr": "timeFormat(datetime(2016, 8, 2 + datum.value), '%m-%y')"}}
 },
 "layer": [
  {"data": {"name": "rain"},
   "mark": {"type": "line", "strokeWidth": 1.5},
   "encoding": {
    "y": {"field": "R", "type": "quantitative", "scale": {"domain": [0, 120], "nice": false}, "axis": {"values": [0, 20, 40, 60, 80, 100, 120], "title": "Rainfall (mm)", "titleX": -55, "titleY": 136}},
    "color": {"datum": "Rainfall", "type": "nominal", "scale": {"domain": ["Rainfall", "Level"], "range": ["#000000", "#a6a6a6"]}, "legend": {"title": null, "legendX": 161, "legendY": -23, "symbolType": "stroke", "symbolSize": 576, "symbolStrokeWidth": 2, "labelOffset": 2, "columnPadding": 72}}
   }},
  {"data": {"name": "level"},
   "mark": {"type": "line", "strokeWidth": 2.5},
   "encoding": {
    "y": {"field": "L", "type": "quantitative", "scale": {"domain": [0, 2.5], "nice": false}, "axis": {"orient": "right", "values": [0, 0.5, 1, 1.5, 2, 2.5], "format": "~g", "tickSize": 3, "labelPadding": 8, "title": "Water level (m)", "titleX": 40, "titleY": 130}},
    "color": {"datum": "Level", "type": "nominal"}
   }}
 ],
 "resolve": {"scale": {"y": "independent"}}
}
],
"spacing": 84,
"bounds": "flush",
"resolve": {"scale": {"x": "independent", "y": "independent", "color": "independent", "fill": "independent"}, "legend": {"color": "independent", "fill": "independent"}}
}
